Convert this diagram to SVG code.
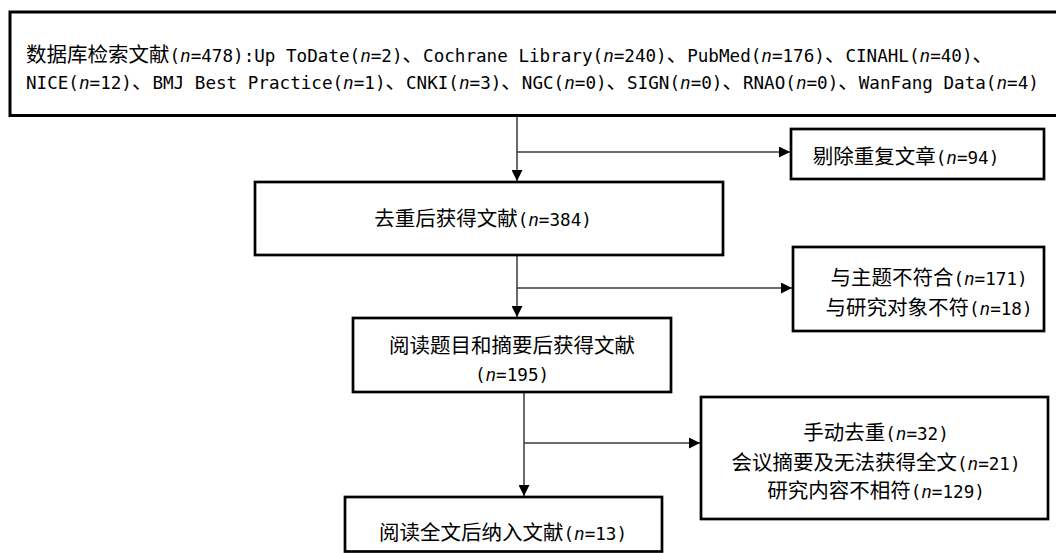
<svg xmlns="http://www.w3.org/2000/svg" width="1056" height="553" viewBox="0 0 1056 553">
<defs>
<style>
.box{fill:#fff;stroke:#000;stroke-width:2.7}
.t{font-family:"DejaVu Sans Mono","Noto Sans CJK SC",monospace;font-size:17.6px;fill:#000}
.c{font-family:"Noto Sans CJK SC",sans-serif;font-size:20.5px}
.i{font-style:italic}
.m{text-anchor:middle}
.ln{stroke:#3a3a3a;stroke-width:1.5;fill:none;marker-end:url(#ah)}
.br{stroke:#3a3a3a;stroke-width:1.5;fill:none}
</style>
<marker id="ah" markerUnits="userSpaceOnUse" viewBox="0 0 10 10" markerWidth="11" markerHeight="11" refX="10" refY="5" orient="auto">
<path d="M0,0 L10,5 L0,10 z" fill="#000"/>
</marker>
</defs>
<rect width="1056" height="553" fill="#fff"/>

<g id="connectors">
<line class="br" x1="517" y1="116" x2="517" y2="152"/>
<line class="ln" x1="517" y1="152" x2="517" y2="181"/>
<line class="ln" x1="517" y1="152" x2="790" y2="152"/>
<line class="br" x1="517" y1="256" x2="517" y2="288"/>
<line class="ln" x1="517" y1="288" x2="517" y2="317"/>
<line class="ln" x1="517" y1="288" x2="792" y2="288"/>
<line class="br" x1="524" y1="393" x2="524" y2="443"/>
<line class="ln" x1="524" y1="443" x2="524" y2="496"/>
<line class="ln" x1="524" y1="443" x2="700" y2="443"/>
</g>

<g id="search">
<rect x="10" y="12" width="1060" height="103.5" style="fill:#fff;stroke:#000;stroke-width:3"/>
<text class="t" x="26" y="62"><tspan class="c">数据库检索文献</tspan>(<tspan class="i">n</tspan>=478):Up ToDate(<tspan class="i">n</tspan>=2)<tspan class="c">、</tspan>Cochrane Library(<tspan class="i">n</tspan>=240)<tspan class="c">、</tspan>PubMed(<tspan class="i">n</tspan>=176)<tspan class="c">、</tspan>CINAHL(<tspan class="i">n</tspan>=40)<tspan class="c">、</tspan></text>
<text class="t" x="26" y="89">NICE(<tspan class="i">n</tspan>=12)<tspan class="c">、</tspan>BMJ Best Practice(<tspan class="i">n</tspan>=1)<tspan class="c">、</tspan>CNKI(<tspan class="i">n</tspan>=3)<tspan class="c">、</tspan>NGC(<tspan class="i">n</tspan>=0)<tspan class="c">、</tspan>SIGN(<tspan class="i">n</tspan>=0)<tspan class="c">、</tspan>RNAO(<tspan class="i">n</tspan>=0)<tspan class="c">、</tspan>WanFang Data(<tspan class="i">n</tspan>=4)</text>
</g>

<g id="dup">
<rect class="box" x="791" y="129" width="253" height="50"/>
<text class="t m" x="906" y="164"><tspan class="c">剔除重复文章</tspan>(<tspan class="i">n</tspan>=94)</text>
</g>

<g id="dedup">
<rect class="box" x="255" y="182" width="468" height="73"/>
<text class="t m" x="483" y="226"><tspan class="c">去重后获得文献</tspan>(<tspan class="i">n</tspan>=384)</text>
</g>

<g id="excl1">
<rect class="box" x="793" y="247" width="251" height="84"/>
<text class="t m" x="929" y="285"><tspan class="c">与主题不符合</tspan>(<tspan class="i">n</tspan>=171)</text>
<text class="t m" x="929" y="315"><tspan class="c">与研究对象不符</tspan>(<tspan class="i">n</tspan>=18)</text>
</g>

<g id="screen">
<rect class="box" x="353" y="318" width="318" height="74"/>
<text class="t m" x="512" y="353"><tspan class="c">阅读题目和摘要后获得文献</tspan></text>
<text class="t m" x="512" y="381">(<tspan class="i">n</tspan>=195)</text>
</g>

<g id="excl2">
<rect class="box" x="701" y="397" width="347" height="122"/>
<text class="t m" x="876" y="440"><tspan class="c">手动去重</tspan>(<tspan class="i">n</tspan>=32)</text>
<text class="t m" x="876" y="470"><tspan class="c">会议摘要及无法获得全文</tspan>(<tspan class="i">n</tspan>=21)</text>
<text class="t m" x="876" y="498"><tspan class="c">研究内容不相符</tspan>(<tspan class="i">n</tspan>=129)</text>
</g>

<g id="included">
<rect class="box" x="345" y="497" width="317" height="54.5"/>
<text class="t m" x="503" y="540"><tspan class="c">阅读全文后纳入文献</tspan>(<tspan class="i">n</tspan>=13)</text>
</g>
</svg>
